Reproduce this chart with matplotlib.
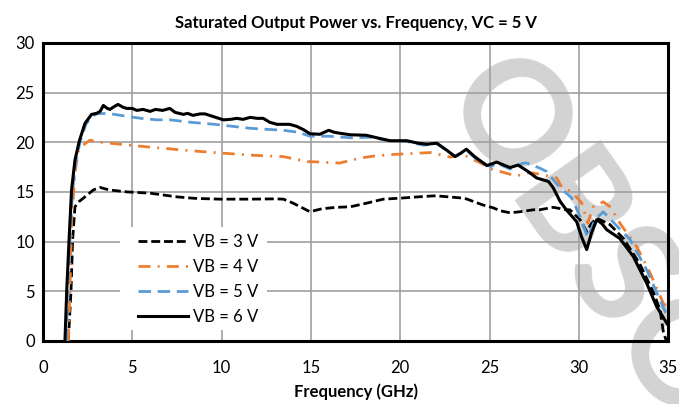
import matplotlib
matplotlib.use("Agg")
import matplotlib.pyplot as plt
from matplotlib.patches import Rectangle

plt.rcParams["font.family"] = ["Lato", "DejaVu Sans"]

# ---- data ----
f_vb3 = [1.42, 1.57, 1.66, 1.79, 2.0, 2.26, 2.82, 3.19, 3.7, 4.7, 6.0, 7.5, 8.5, 9.9,
         11.6, 13.0, 13.46, 14.0, 14.95, 15.6, 16.44, 17.2, 18.2, 19.05, 20.0, 21.0,
         21.85, 22.05, 23.35, 23.7, 24.6, 25.2, 25.6, 26.15, 26.7, 27.45, 27.8, 28.57,
         29.3, 29.5, 30.07, 30.44, 30.7, 31.0, 31.3, 31.75, 32.5, 33.4, 34.2, 34.55,
         34.73, 34.9]
p_vb3 = [0.0, 5.1, 10.2, 13.5, 14.0, 14.37, 15.2, 15.45, 15.2, 15.0, 14.87, 14.5, 14.35, 14.27,
         14.27, 14.3, 14.27, 13.87, 13.0, 13.3, 13.45, 13.5, 13.9, 14.27, 14.37, 14.5,
         14.6, 14.6, 14.4, 14.3, 13.7, 13.4, 13.1, 12.9, 13.0, 13.2, 13.2, 13.45,
         13.2, 13.2, 12.2, 11.0, 11.8, 12.35, 12.1, 11.7, 10.3, 7.8, 4.8, 3.1,
         0.94, 0.0]

f_vb4 = [1.42, 1.51, 1.6, 1.79, 1.98, 2.16, 2.63, 3.2, 3.75, 4.87, 6.0, 7.0, 7.86, 9.6,
         11.6, 13.45, 14.8, 15.6, 16.6, 17.75, 18.5, 19.43, 20.5, 21.7, 22.8, 23.5,
         23.7, 24.85, 25.2, 25.6, 26.5, 27.1, 27.45, 28.0, 28.76, 29.04, 29.6, 30.16,
         30.5, 30.8, 31.37, 31.75, 32.3, 33.24, 34.0, 34.73, 35.0]
p_vb4 = [0.0, 5.0, 11.9, 16.9, 19.1, 19.6, 20.2, 20.0, 19.9, 19.7, 19.5, 19.35, 19.2, 18.96,
         18.7, 18.55, 18.05, 18.0, 17.9, 18.4, 18.6, 18.75, 18.85, 18.96, 18.5, 18.8,
         18.6, 17.6, 17.2, 17.05, 16.6, 16.9, 16.9, 16.7, 16.4, 15.5, 15.0, 13.9,
         11.85, 13.5, 14.0, 13.5, 11.85, 9.5, 6.8, 3.8, 3.0]

f_vb5 = [1.3, 1.38, 1.5, 1.65, 1.85, 2.1, 2.4, 2.75, 3.0, 3.5, 4.0, 4.7, 5.5, 6.37,
         7.1, 8.3, 9.6, 10.6, 11.6, 12.5, 13.45, 14.3, 14.95, 16.0, 17.2, 18.3,
         19.43, 20.3, 21.3, 22.05, 22.6, 23.07, 23.7, 24.2, 24.85, 25.1, 25.4, 26.15,
         26.9, 27.1, 27.8, 28.2, 28.95, 29.6, 30.07, 30.5, 30.9, 31.37, 31.9, 32.87,
         33.8, 34.55, 35.0]
p_vb5 = [0.0, 5.0, 10.0, 15.0, 18.2, 20.2, 21.8, 22.6, 22.85, 22.9, 22.8, 22.6, 22.4, 22.25,
         22.25, 22.0, 21.8, 21.6, 21.4, 21.3, 21.2, 21.0, 20.6, 20.6, 20.45, 20.5,
         20.15, 20.1, 19.7, 19.85, 19.2, 18.6, 19.2, 18.4, 17.7, 17.55, 17.9, 17.3,
         17.9, 17.9, 17.4, 17.05, 15.4, 14.4, 12.5, 10.4, 12.2, 13.0, 12.0, 10.2,
         7.15, 4.1, 2.3]

f_vb6 = [1.23, 1.33, 1.46, 1.6, 1.79, 2.03, 2.35, 2.72, 3.0, 3.2, 3.38, 3.6, 3.75, 4.0,
         4.2, 4.5, 4.7, 5.0, 5.25, 5.6, 6.0, 6.3, 6.7, 7.1, 7.4, 7.86, 8.1, 8.4, 8.8,
         9.07, 9.5, 10.1, 10.5, 10.85, 11.2, 11.6, 12.0, 12.33, 12.7, 13.1, 13.5, 13.8,
         14.2, 14.6, 14.95, 15.5, 16.0, 16.3, 16.63, 17.2, 18.1, 18.8, 19.43, 20.37,
         21.0, 21.5, 22.05, 22.6, 23.07, 23.4, 23.7, 24.2, 24.85, 25.4, 25.8, 26.15,
         26.6, 27.2, 27.64, 28.3, 28.57, 28.95, 29.3, 29.88, 30.15, 30.44, 30.7, 31.0,
         31.3, 31.56, 32.3, 33.05, 33.8, 34.36, 34.92, 35.0]
p_vb6 = [0.0, 5.1, 10.2, 15.2, 18.2, 20.1, 21.9, 22.8, 22.9, 23.1, 23.7, 23.4, 23.3, 23.6,
         23.8, 23.5, 23.4, 23.4, 23.2, 23.3, 23.1, 23.3, 23.2, 23.4, 23.0, 22.8, 22.9, 22.7, 22.85,
         22.85, 22.6, 22.25, 22.3, 22.4, 22.3, 22.5, 22.4, 22.4, 22.0, 21.8, 21.8, 21.8,
         21.6, 21.25, 20.85, 20.8, 21.2, 21.0, 20.9, 20.75, 20.7, 20.4, 20.15, 20.15,
         19.9, 19.8, 19.9, 19.2, 18.55, 18.9, 19.3, 18.5, 17.65, 18.0, 17.7, 17.45,
         17.7, 17.0, 16.4, 16.05, 15.4, 14.05, 13.2, 12.0, 10.5, 9.2, 10.8, 12.2,
         11.8, 11.2, 10.3, 8.5, 5.8, 3.45, 1.8, 1.6]

labels = ["VB = 3 V", "VB = 4 V", "VB = 5 V", "VB = 6 V"]
colors = ["black", "#ED7D31", "#5B9BD5", "black"]

# -------------------------------------------------
fig = plt.figure(figsize=(6.79, 4.04), dpi=100)
ax = fig.add_axes([0.0633, 0.156, 0.9207, 0.738])
ax.patch.set_facecolor("none")

ax.plot(f_vb3, p_vb3, color=colors[0], lw=2.0, dashes=(3.2, 1.4), label=labels[0], zorder=3)
ax.plot(f_vb4, p_vb4, color=colors[1], lw=2.0, dashes=(4.3, 2.6, 0.7, 2.6), label=labels[1], zorder=3)
ax.plot(f_vb5, p_vb5, color=colors[2], lw=2.0, dashes=(4.5, 2.4), label=labels[2], zorder=3)
ax.plot(f_vb6, p_vb6, color=colors[3], lw=2.2, label=labels[3], zorder=4)

ax.set_xlim(0, 35)
ax.set_ylim(0, 30)
ax.set_xticks(range(0, 36, 5))
ax.set_yticks(range(0, 31, 5))
ax.tick_params(length=0, labelsize=12)
ax.tick_params(axis="x", pad=14)
ax.tick_params(axis="y", pad=6)
ax.set_axisbelow(True)
ax.grid(True, color="#a0a0a0", lw=1.2)
for s in ax.spines.values():
    s.set_linewidth(2.2)
    s.set_color("black")

ax.set_title("Saturated Output Power vs. Frequency, VC = 5 V", fontsize=12, fontweight="bold", pad=11)
ax.set_xlabel("Frequency (GHz)", fontsize=12, fontweight="bold", labelpad=5)

# legend background box and legend
ax.add_patch(Rectangle((0.123, 0.037), 0.235, 0.346, transform=ax.transAxes,
                       facecolor="white", edgecolor="none", zorder=4.5))
leg = ax.legend(loc="center left", bbox_to_anchor=(0.152, 0.206),
                fontsize=12, handlelength=3.0, handletextpad=0.3, labelspacing=0.55,
                frameon=False, borderpad=0, borderaxespad=0)
leg.set_zorder(5)

# watermark
ax.text(0.695, 0.815, "OBSOLETE", transform=fig.transFigure, rotation=-55,
        rotation_mode="anchor", ha="left", va="center", fontsize=105,
        fontweight="bold", color="#d3d3d3", zorder=0.1, clip_on=False)

fig.savefig("out.png", dpi=100)
